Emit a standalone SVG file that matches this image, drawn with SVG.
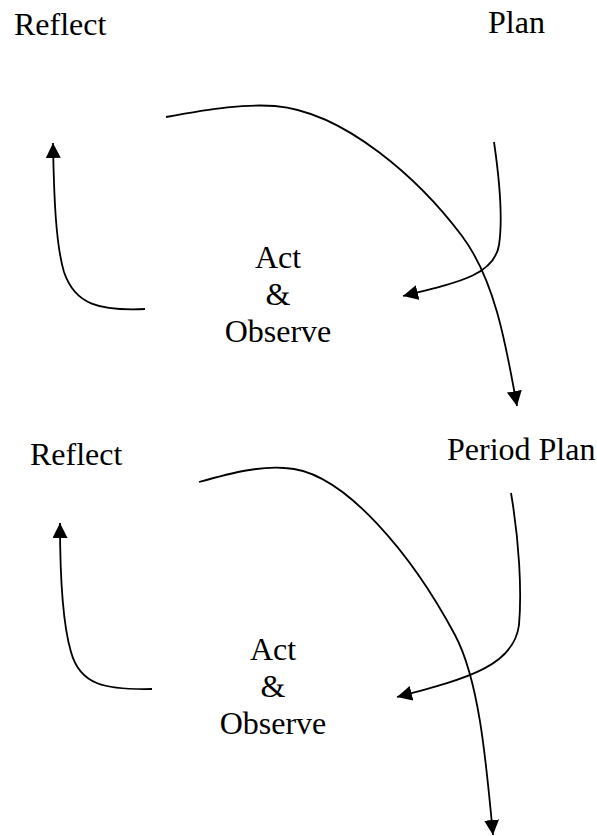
<svg xmlns="http://www.w3.org/2000/svg" width="597" height="836" viewBox="0 0 597 836">
<style>
text{font-family:"Liberation Serif","Times New Roman",serif;font-size:32px;fill:#000}
.c{fill:none;stroke:#000;stroke-width:1.8;marker-end:url(#ah)}
</style>
<defs>
<marker id="ah" markerUnits="userSpaceOnUse" markerWidth="18" markerHeight="18" refX="15" refY="7.5" orient="auto">
<path d="M0,0 L15,7.5 L0,15 z" fill="#000"/>
</marker>
</defs>
<rect width="597" height="836" fill="#fff"/>
<g id="reflect1"><text x="14" y="35">Reflect</text></g>
<g id="plan1"><text x="488" y="33">Plan</text></g>
<g id="act1"><text x="278" y="268" text-anchor="middle">Act</text><text x="278" y="305" text-anchor="middle">&amp;</text><text x="278" y="342" text-anchor="middle">Observe</text></g>
<g id="reflect2"><text x="30" y="465">Reflect</text></g>
<g id="plan2"><text x="447" y="460">Period Plan</text></g>
<g id="act2"><text x="273" y="660" text-anchor="middle">Act</text><text x="273" y="697" text-anchor="middle">&amp;</text><text x="273" y="734" text-anchor="middle">Observe</text></g>
<g id="connectors">
<path class="c" d="M166,117 C215,108 245,104 275,106 C345,112 420,180 462,236 C495,280 506,345 517,406"/>
<path class="c" d="M494,142 C501,190 502,225 499,245 C494,275 460,282 403,296"/>
<path class="c" d="M145,309 C100,311 75,305 64,272 C56,245 54,200 53,143"/>
<path class="c" d="M199,482 C235,472 260,466 285,468 C345,470 415,560 455,635 C479,680 486,760 493,835"/>
<path class="c" d="M511,493 C519,540 522,590 519,625 C514,665 470,678 397,697"/>
<path class="c" d="M152,689 C105,690 80,685 71,652 C63,625 60,580 60,523"/>
</g>
</svg>
